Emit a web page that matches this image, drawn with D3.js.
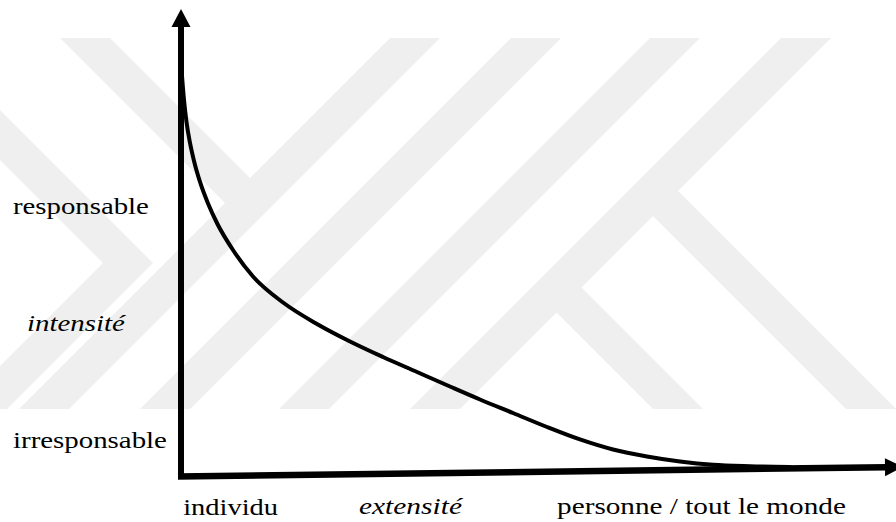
<!DOCTYPE html>
<html>
<head>
<meta charset="utf-8">
<script src="https://cdn.jsdelivr.net/npm/d3@7"></script>
<style>
  html, body { margin: 0; padding: 0; background: #ffffff; overflow: hidden; }
</style>
</head>
<body>
<svg id="chart" width="896" height="522"></svg>
<script>
// Responsibility curve: the wider the circle of people concerned (extensité),
// the weaker each one's responsibility (intensité). Both axes run 0–100.
const extensite = [0.14, 0.42, 0.77, 1.26, 1.82, 2.66, 3.78, 5.10, 7.27, 10.07,
                   14.27, 19.02, 23.64, 28.25, 33.01, 37.62, 41.82, 46.43, 51.19, 55.80,
                   60.42, 65.17, 69.79, 74.41, 79.58, 85.17];
const intensite = [85.65, 80.51, 75.80, 71.31, 67.45, 62.96, 58.35, 53.96, 48.39, 42.72,
                   37.15, 32.55, 28.80, 25.48, 22.27, 19.16, 16.38, 13.49, 10.49, 7.82,
                   5.67, 4.18, 3.10, 2.39, 2.08, 1.93];

// Axis end labels and their values, plus the two axis titles
const yTickLabels = ["irresponsable", "responsable"];
const yTickValues = [6, 56.1];
const xTickLabels = ["individu", "personne / tout le monde"];
const xTickValues = [0.3, 52.6];
const yTitle = "intensité";
const xTitle = "extensité";

const svg = d3.select("#chart");

const x = d3.scaleLinear().domain([0, 100]).range([181, 896]);
const y = d3.scaleLinear().domain([0, 100]).range([476, 9]);

// ---- faint background emblem made of 45° bands ----
const bg = svg.append("g").attr("fill", "#efefef");
const bandTop = 38, bandBottom = 409, bw = 50, span = bandBottom - bandTop;
// rising bands "/" that run the full height
[390, 511, 650, 781].forEach(xt => {
  bg.append("polygon").attr("points", [
    [xt, bandTop], [xt + bw, bandTop], [xt + bw - span, bandBottom], [xt - span, bandBottom]
  ].join(" "));
});
// short falling arm joining the first rising band (V)
bg.append("polygon").attr("points", [[60, bandTop], [110, bandTop], [250, 178], [250, 228]].join(" "));
// left chevron ">"
bg.append("polygon").attr("points",
  [[0, 110], [153, 263], [7, bandBottom], [0, bandBottom], [0, 366], [103, 263], [0, 160]].join(" "));
// two falling bands branching off the last rising band
bg.append("polygon").attr("points", [[628, 191], [678, 191], [896, bandBottom], [846, bandBottom]].join(" "));
bg.append("polygon").attr("points", [[531.5, 287.5], [581.5, 287.5], [703, bandBottom], [653, bandBottom]].join(" "));

// ---- axes ----
const x0 = x(0), y0 = y(0);
const yTip = y(100), xTip = x.range()[1] + 7, xTipY = y0 - 9;
const ax = svg.append("g");
// vertical axis
ax.append("line")
  .attr("x1", x0).attr("x2", x0)
  .attr("y1", y0).attr("y2", yTip + 17)
  .attr("stroke", "#000").attr("stroke-width", 6);
ax.append("polygon")
  .attr("points", [[x0, yTip], [x0 - 9.5, yTip + 18], [x0 + 9.5, yTip + 18]].join(" "))
  .attr("fill", "#000");
// horizontal axis (drawn slightly rising to the right)
const ang = Math.atan2(xTipY - y0, xTip - (x0 - 3));
const bx = xTip - 18 * Math.cos(ang), by = xTipY - 18 * Math.sin(ang);
ax.append("line")
  .attr("x1", x0 - 3).attr("y1", y0 + 0.5)
  .attr("x2", bx + 1).attr("y2", by)
  .attr("stroke", "#000").attr("stroke-width", 6.5);
ax.append("polygon")
  .attr("points", [
    [xTip, xTipY],
    [bx - 9 * Math.sin(ang), by + 9 * Math.cos(ang)],
    [bx + 9 * Math.sin(ang), by - 9 * Math.cos(ang)]
  ].join(" "))
  .attr("fill", "#000");

// ---- curve ----
const pts = extensite.map((e, i) => [e, intensite[i]]);
svg.append("path")
  .datum(pts)
  .attr("fill", "none")
  .attr("stroke", "#000")
  .attr("stroke-width", 4)
  .attr("stroke-linecap", "round")
  .attr("d", d3.line().x(d => x(d[0])).y(d => y(d[1])).curve(d3.curveMonotoneX));

// ---- labels (serif, widened to the wanted width) ----
function label(str, px, py, width, italic) {
  const t = svg.append("text")
    .attr("x", 0).attr("y", 0)
    .attr("font-family", "Liberation Serif")
    .attr("font-size", 23)
    .attr("font-style", italic ? "italic" : "normal")
    .attr("fill", "#000")
    .text(str);
  const natural = t.node().getComputedTextLength() || width;
  t.attr("transform", `translate(${px},${py}) scale(${width / natural},1)`);
}
// vertical axis labels
label(yTickLabels[1], 13, y(yTickValues[1]), 136, false);
label(yTickLabels[0], 13, y(yTickValues[0]), 154, false);
label(yTitle, 27, 331, 98, true);
// horizontal axis labels
label(xTickLabels[0], x(xTickValues[0]), 515, 95, false);
label(xTickLabels[1], x(xTickValues[1]), 514, 289, false);
label(xTitle, 359, 514, 103, true);
</script>
</body>
</html>
